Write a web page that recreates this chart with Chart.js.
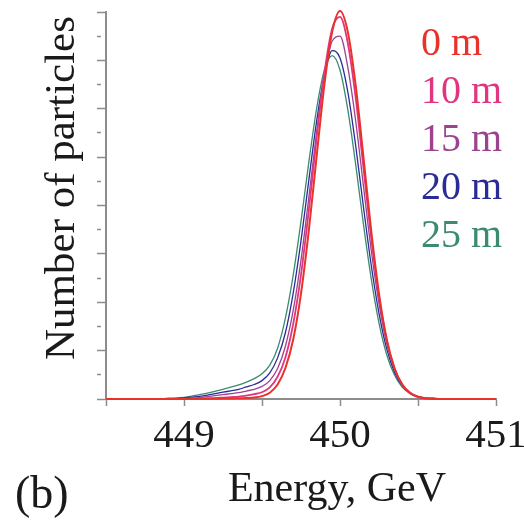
<!DOCTYPE html>
<html>
<head>
<meta charset="utf-8">
<script src="https://cdn.jsdelivr.net/npm/chart.js@4/dist/chart.umd.min.js"></script>
<style>
  html, body { margin: 0; padding: 0; background: #fff; }
  #wrap { position: relative; width: 524px; height: 521px; }
</style>
</head>
<body>
<div id="wrap"><canvas id="chartEnergi"></canvas></div>
<script>
// energi (GeV), langkah 0.05
const energy = [
  448.5, 448.55, 448.6, 448.65, 448.7, 448.75, 448.8, 448.85, 448.9, 448.95,
  449.0, 449.05, 449.1, 449.15, 449.2, 449.25, 449.3, 449.35, 449.4, 449.45,
  449.5, 449.55, 449.6, 449.65, 449.7, 449.75, 449.8, 449.85, 449.9, 449.95,
  450.0, 450.05, 450.1, 450.15, 450.2, 450.25, 450.3, 450.35, 450.4, 450.45,
  450.5, 450.55, 450.6, 450.65, 450.7, 450.75, 450.8, 450.85, 450.9, 450.95, 451.0
];

// jumlah partikel per jarak
const n0m = [
  0, 0, 0, 0, 0, 0, 0, 0, 0, 0,
  0, 0, 0, 0, 0.005, 0.01, 0.01, 0.015, 0.02, 0.03,
  0.06, 0.13, 0.3, 0.64, 1.23, 2.18, 3.48, 5.01, 6.5, 7.59,
  8.02, 7.59, 6.5, 5.01, 3.48, 2.18, 1.23, 0.63, 0.29, 0.12,
  0.04, 0.01, 0, 0, 0, 0, 0, 0, 0, 0, 0
];
const n10m = [
  0, 0, 0, 0, 0, 0, 0, 0, 0, 0,
  0, 0.005, 0.01, 0.015, 0.02, 0.03, 0.04, 0.05, 0.07, 0.1,
  0.14, 0.24, 0.46, 0.86, 1.55, 2.57, 3.9, 5.39, 6.74, 7.66,
  7.9, 7.36, 6.24, 4.79, 3.34, 2.11, 1.21, 0.63, 0.3, 0.13,
  0.05, 0.02, 0.01, 0, 0, 0, 0, 0, 0, 0, 0
];
const n15m = [
  0, 0, 0, 0, 0, 0, 0, 0, 0, 0.005,
  0.01, 0.02, 0.03, 0.05, 0.07, 0.09, 0.11, 0.13, 0.165, 0.2,
  0.26, 0.38, 0.63, 1.09, 1.83, 2.87, 4.16, 5.51, 6.67, 7.4,
  7.5, 6.86, 5.76, 4.41, 3.08, 1.97, 1.14, 0.61, 0.29, 0.13,
  0.05, 0.02, 0.01, 0, 0, 0, 0, 0, 0, 0, 0
];
const n20m = [
  0, 0, 0, 0, 0, 0, 0, 0.005, 0.01, 0.015,
  0.025, 0.04, 0.055, 0.08, 0.11, 0.14, 0.17, 0.2, 0.25, 0.3,
  0.38, 0.54, 0.85, 1.37, 2.19, 3.27, 4.52, 5.74, 6.69, 7.2,
  7.05, 6.35, 5.25, 3.98, 2.77, 1.77, 1.03, 0.55, 0.27, 0.12,
  0.05, 0.02, 0.01, 0, 0, 0, 0, 0, 0, 0, 0
];
const n25m = [
  0, 0, 0, 0, 0, 0, 0, 0.005, 0.01, 0.02,
  0.035, 0.06, 0.09, 0.12, 0.16, 0.2, 0.245, 0.29, 0.35, 0.42,
  0.52, 0.7, 1.05, 1.67, 2.56, 3.67, 4.89, 6.0, 6.8, 7.1,
  6.8, 5.98, 4.86, 3.62, 2.49, 1.57, 0.91, 0.49, 0.24, 0.11,
  0.045, 0.02, 0.01, 0, 0, 0, 0, 0, 0, 0, 0
];

const seriesNames = ["0 m", "10 m", "15 m", "20 m", "25 m"];
const seriesColors = ["#e8322a", "#e2357f", "#9c4390", "#2b2b98", "#3b8a72"];
const lineWidths = [2, 1.8, 1.3, 1.3, 1.3];
const xTicks = [449, 450, 451];

const serif = "'Liberation Serif', 'DejaVu Serif', serif";
const ink = "#1a1a1a";
const axisGray = "#8c8c8c";

// judul sumbu, legenda dan label panel
const teksGrafik = {
  id: "teksGrafik",
  afterDraw(chart) {
    const c = chart.ctx;
    c.save();
    c.fillStyle = ink;
    c.textBaseline = "alphabetic";

    c.save();
    c.font = "43px " + serif;
    c.textAlign = "center";
    c.translate(74, 188);
    c.rotate(-Math.PI / 2);
    c.fillText("Number of particles", 0, 0);
    c.restore();

    c.font = "42px " + serif;
    c.textAlign = "center";
    c.fillText("Energy, GeV", 337, 501);

    c.font = "46px " + serif;
    c.textAlign = "left";
    c.fillText("(b)", 15, 508);

    c.font = "40px " + serif;
    chart.data.datasets.forEach((ds, i) => {
      c.fillStyle = ds.borderColor;
      c.fillText(ds.label, 421, 55 + i * 48);
    });
    c.restore();
  }
};

const datasets = [n0m, n10m, n15m, n20m, n25m].map((vals, i) => ({
  label: seriesNames[i],
  data: energy.map((e, j) => ({ x: e, y: vals[j] })),
  borderColor: seriesColors[i],
  borderWidth: lineWidths[i],
  pointRadius: 0,
  fill: false,
  clip: false,
  cubicInterpolationMode: "monotone"
}));

new Chart(document.getElementById("chartEnergi"), {
  type: "line",
  data: { datasets },
  options: {
    responsive: true,
    maintainAspectRatio: false,
    animation: false,
    layout: { padding: { top: 12, right: 28, left: 0, bottom: 0 } },
    plugins: {
      legend: { display: false },
      tooltip: { enabled: false }
    },
    scales: {
      x: {
        type: "linear",
        min: 448.5,
        max: 451,
        ticks: {
          stepSize: 0.5,
          autoSkip: false,
          maxRotation: 0,
          padding: 6,
          color: ink,
          font: { family: serif, size: 41 },
          callback: v => (xTicks.includes(v) ? String(v) : "")
        },
        grid: { drawOnChartArea: false, tickLength: 7, tickColor: axisGray, tickWidth: 1.5 },
        border: { color: axisGray, width: 2 },
        afterFit: s => { s.height = 122; s.paddingLeft = 0; s.paddingRight = 0; }
      },
      y: {
        min: 0,
        max: 8,
        ticks: { stepSize: 0.5, display: false },
        grid: {
          drawOnChartArea: false,
          tickLength: 9,
          tickColor: axisGray,
          tickWidth: 1.5,
          tickBorderDash: ctx => (ctx.tick && ctx.tick.value % 1 !== 0 ? [4, 20] : [])
        },
        border: { color: axisGray, width: 2 },
        afterFit: s => { s.width = 106; }
      }
    }
  },
  plugins: [teksGrafik]
});
</script>
</body>
</html>
